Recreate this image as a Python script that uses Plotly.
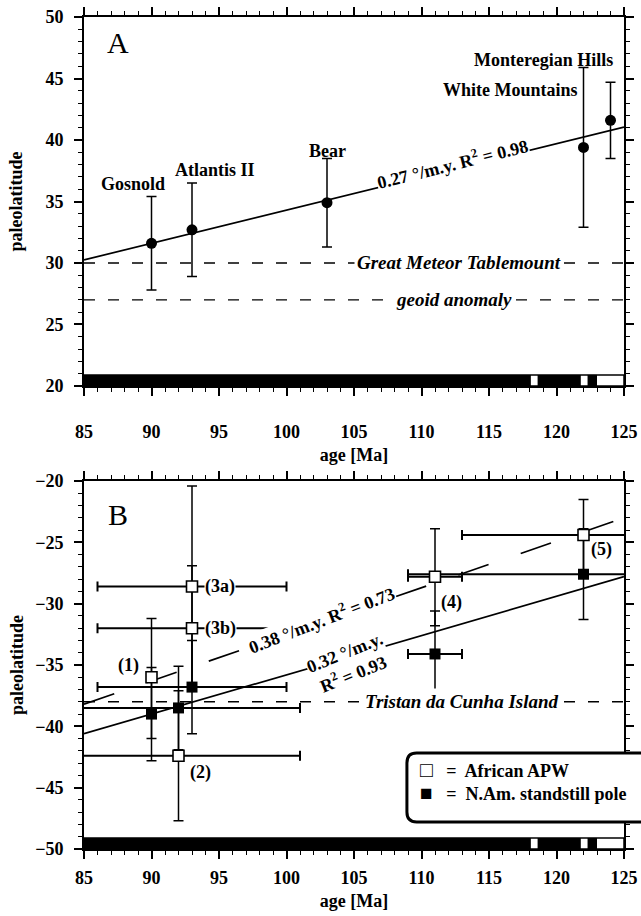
import plotly.graph_objects as go

# ---------------- Panel A data ----------------
a_names = ["Gosnold", "Atlantis II", "Bear", "Monteregian Hills", "White Mountains"]
a_age = [90, 93, 103, 122, 124]
a_lat = [31.6, 32.7, 34.9, 39.4, 41.6]
a_lat_err = [3.8, 3.8, 3.6, 6.5, 3.1]

a_fit_slope = 0.27          # deg / m.y.
a_fit_at85 = 30.25
a_fit_r2 = 0.98

a_ref_names = ["Great Meteor Tablemount", "geoid anomaly"]
a_ref_lat = [30, 27]

# ---------------- Panel B data ----------------
apw_labels = ["(1)", "(2)", "(3a)", "(3b)", "(4)", "(5)"]
apw_age = [90, 92, 93, 93, 111, 122]
apw_lat = [-36.0, -42.4, -28.6, -32.0, -27.8, -24.4]
apw_age_err = [0, 9, 7, 7, 2, 9]
apw_lat_err_plus = [4.8, 5.3, 8.2, 5.1, 3.9, 2.9]
apw_lat_err_minus = [5.0, 5.3, 8.2, 5.1, 4.0, 2.9]

nam_age = [90, 92, 93, 111, 122]
nam_lat = [-39.0, -38.5, -36.8, -34.1, -27.6]
nam_age_err = [0, 9, 7, 2, 13]
nam_lat_err = [3.8, 3.4, 3.8, 3.5, 3.7]

b_fit_solid_slope = 0.32
b_fit_solid_at85 = -40.6
b_fit_solid_r2 = 0.93
b_fit_dash_slope = 0.38
b_fit_dash_at85 = -38.2
b_fit_dash_r2 = 0.73

b_ref_names = ["Tristan da Cunha Island"]
b_ref_lat = [-38]

legend_names = ["African APW", "N.Am. standstill pole"]

# magnetic polarity (normal = black) intervals, Ma
pol_normal_start = [85.0, 118.6, 122.3]
pol_normal_end = [118.1, 121.8, 123.0]

age_range = [85, 125]
lat_range_a = [20, 50]
lat_range_b = [-50, -20]

SERIF = "Liberation Serif"
fig = go.Figure()


def fit_line(slope, at85):
    xs = list(age_range)
    return xs, [at85 + slope * (x - 85) for x in xs]


# ---- Panel A traces ----
xs, ys = fit_line(a_fit_slope, a_fit_at85)
fig.add_trace(go.Scatter(x=xs, y=ys, mode="lines", line=dict(color="black", width=1.7),
                         xaxis="x", yaxis="y", showlegend=False, hoverinfo="skip"))
for v in a_ref_lat:
    fig.add_trace(go.Scatter(x=age_range, y=[v, v], mode="lines",
                             line=dict(color="black", width=1.4, dash="11px,13px"),
                             xaxis="x", yaxis="y", showlegend=False, hoverinfo="skip"))
fig.add_trace(go.Scatter(
    x=a_age, y=a_lat, mode="markers", xaxis="x", yaxis="y", showlegend=False,
    marker=dict(symbol="circle", size=11, color="black"),
    error_y=dict(type="data", array=a_lat_err, color="black", thickness=1.5, width=5)))

# ---- Panel B traces ----
xs, ys = fit_line(b_fit_solid_slope, b_fit_solid_at85)
fig.add_trace(go.Scatter(x=xs, y=ys, mode="lines", line=dict(color="black", width=1.7),
                         xaxis="x2", yaxis="y2", showlegend=False, hoverinfo="skip"))
xs, ys = fit_line(b_fit_dash_slope, b_fit_dash_at85)
fig.add_trace(go.Scatter(x=xs, y=ys, mode="lines", line=dict(color="black", width=1.7, dash="32px,34px"),
                         xaxis="x2", yaxis="y2", showlegend=False, hoverinfo="skip"))
for v in b_ref_lat:
    fig.add_trace(go.Scatter(x=age_range, y=[v, v], mode="lines",
                             line=dict(color="black", width=1.4, dash="11px,13px"),
                             xaxis="x2", yaxis="y2", showlegend=False, hoverinfo="skip"))
fig.add_trace(go.Scatter(
    x=nam_age, y=nam_lat, mode="markers", xaxis="x2", yaxis="y2", showlegend=False,
    marker=dict(symbol="square", size=11, color="black"),
    error_x=dict(type="data", array=nam_age_err, color="black", thickness=2, width=5),
    error_y=dict(type="data", array=nam_lat_err, color="black", thickness=1.5, width=5)))
fig.add_trace(go.Scatter(
    x=apw_age, y=apw_lat, mode="markers", xaxis="x2", yaxis="y2", showlegend=False,
    marker=dict(symbol="square", size=11, color="white", line=dict(color="black", width=1.6)),
    error_x=dict(type="data", array=apw_age_err, color="black", thickness=2, width=5),
    error_y=dict(type="data", array=apw_lat_err_plus, arrayminus=apw_lat_err_minus,
                 color="black", thickness=1.5, width=5)))

# ---- polarity bars ----
shapes = []
for xa, ya, base in (("x", "y", lat_range_a[0]), ("x2", "y2", lat_range_b[0])):
    shapes.append(dict(type="rect", xref=xa, yref=ya, x0=age_range[0], x1=age_range[1],
                       y0=base, y1=base + 0.9, fillcolor="white", line=dict(color="black", width=1.5),
                       layer="above"))
    for s, e in zip(pol_normal_start, pol_normal_end):
        shapes.append(dict(type="rect", xref=xa, yref=ya, x0=s, x1=e, y0=base, y1=base + 0.9,
                           fillcolor="black", line=dict(width=0), layer="above"))

# ---- legend box (rounded, runs off the right edge) ----
x0, x1 = 0.598, 1.06
y0, y1 = 0.0325, 0.1154
rx, ry = 0.018, 0.012
path = (f"M {x1},{y0} L {x0+rx},{y0} Q {x0},{y0} {x0},{y0+ry} "
        f"L {x0},{y1-ry} Q {x0},{y1} {x0+rx},{y1} L {x1},{y1} Z")
shapes.append(dict(type="path", xref="paper", yref="paper", path=path,
                   fillcolor="white", line=dict(color="black", width=3), layer="above"))

ann = []
FS = 18
bold = dict(family=SERIF, size=FS, color="black", weight="bold")
ital = dict(family=SERIF, size=19, color="black", style="italic", weight="bold")

ann.append(dict(x=87.5, y=47.9, xref="x", yref="y", text="A", showarrow=False,
                font=dict(family=SERIF, size=30, color="black")))
a_label_pos = [(88.6, 36.4), (94.7, 37.6), (103.0, 39.1), (119.0, 46.5), (116.6, 44.1)]
for name, (lx, ly) in zip(a_names, a_label_pos):
    ann.append(dict(x=lx, y=ly, xref="x", yref="y", text=name, showarrow=False, font=bold))
ann.append(dict(x=112.3, y=38.1, xref="x", yref="y",
                text=f"{a_fit_slope} °/m.y. R<sup>2</sup> = {a_fit_r2}",
                showarrow=False, textangle=-14, bgcolor="white", font=bold, borderpad=0))
for name, v, lx in zip(a_ref_names, a_ref_lat, [112.8, 112.4]):
    ann.append(dict(x=lx, y=v, xref="x", yref="y", text=name, showarrow=False,
                    bgcolor="white", font=ital, borderpad=2))

ann.append(dict(x=87.5, y=-22.7, xref="x2", yref="y2", text="B", showarrow=False,
                font=dict(family=SERIF, size=30, color="black")))
apw_label_pos = [(88.3, -35.0), (93.6, -43.8), (95.1, -28.6), (95.1, -32.0), (112.2, -29.9), (123.3, -25.6)]
for name, (lx, ly) in zip(apw_labels, apw_label_pos):
    ann.append(dict(x=lx, y=ly, xref="x2", yref="y2", text=name, showarrow=False,
                    bgcolor="white", font=bold, borderpad=0))
ann.append(dict(x=102.6, y=-31.3, xref="x2", yref="y2",
                text=f"{b_fit_dash_slope} °/m.y. R<sup>2</sup> = {b_fit_dash_r2}",
                showarrow=False, textangle=-21, bgcolor="white", font=bold, borderpad=0))
ann.append(dict(x=104.6, y=-34.9, xref="x2", yref="y2",
                text=f"{b_fit_solid_slope} °/m.y.<br>R<sup>2</sup> = {b_fit_solid_r2}",
                showarrow=False, textangle=-22, bgcolor="white", font=bold, borderpad=0))
for name, v in zip(b_ref_names, b_ref_lat):
    ann.append(dict(x=113.0, y=v, xref="x2", yref="y2", text=name, showarrow=False,
                    bgcolor="white", font=ital, borderpad=2))

sq = "<span style='font-size:21px'>{}</span>"
legend_text = (sq.format("□") + "   =  " + legend_names[0] + "<br>" +
               sq.format("■") + "   =  " + legend_names[1])
ann.append(dict(x=0.618, y=0.0812, xref="paper", yref="paper", xanchor="left", yanchor="middle",
                align="left", text=legend_text, showarrow=False, font=bold))

tickfont = dict(family=SERIF, size=18, color="black", weight="bold")
titlefont = dict(family=SERIF, size=18, color="black", weight="bold")


def axis(rng, domain=None, anchor=None, title=None, standoff=None, lblstand=0):
    d = dict(range=rng, dtick=5, showline=True, linecolor="black", linewidth=2,
             mirror="ticks", ticks="outside", ticklen=8, tickwidth=1.6, tickcolor="black",
             minor=dict(ticks="outside", dtick=1, ticklen=4, tickwidth=1.2, tickcolor="black"),
             showgrid=False, zeroline=False, tickfont=tickfont, fixedrange=True,
             automargin=False, ticklabelstandoff=lblstand, ticklabeloverflow="allow")
    if domain is not None:
        d["domain"] = domain
    if anchor is not None:
        d["anchor"] = anchor
    if title is not None:
        d["title"] = dict(text=title, font=titlefont, standoff=standoff)
    return d


fig.update_layout(
    width=641, height=916,
    margin=dict(l=84, r=17, t=17, b=67),
    paper_bgcolor="white", plot_bgcolor="white",
    xaxis=axis(age_range, anchor="y", title="age [Ma]", standoff=8, lblstand=20),
    yaxis=axis(lat_range_a, domain=[0.5565, 1.0], anchor="x", title="paleolatitude", standoff=18, lblstand=7),
    xaxis2=axis(age_range, anchor="y2", title="age [Ma]", standoff=8, lblstand=3),
    yaxis2=axis(lat_range_b, domain=[0.0, 0.4423], anchor="x2", title="paleolatitude", standoff=7, lblstand=7),
    shapes=shapes, annotations=ann, showlegend=False,
)

# remove the browser's default page margin / scrollbars so the figure fills the window exactly
page_fix = ("document.documentElement.style.margin='0';document.documentElement.style.overflow='hidden';"
            "document.body.style.margin='0';document.body.style.overflow='hidden';")
fig.write_html("out.html", post_script=page_fix, config={"displayModeBar": False})
